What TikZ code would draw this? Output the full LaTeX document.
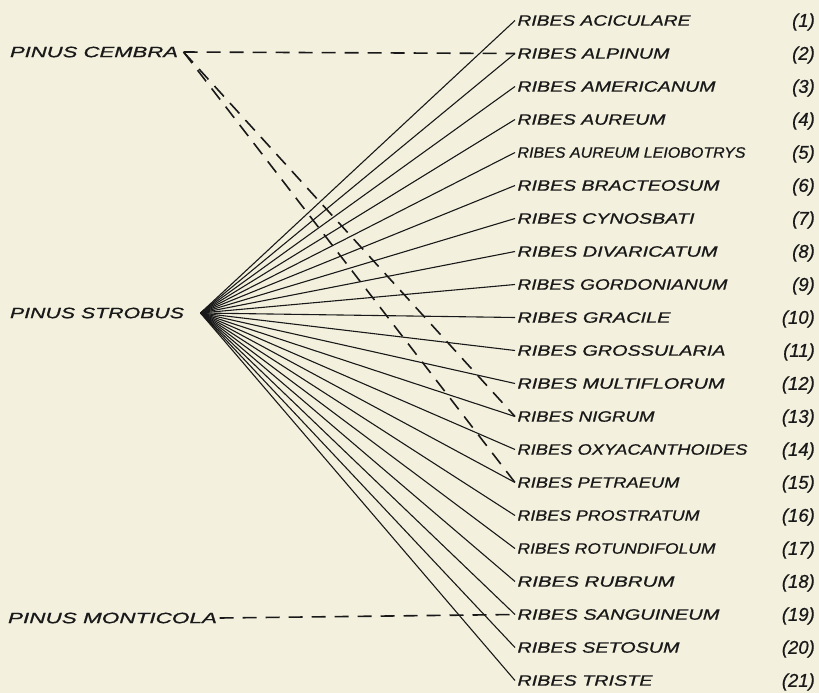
\documentclass[tikz,border=0pt]{standalone}
\usepackage{fontspec}
\usepackage{graphicx}
\newfontfamily\lett{Liberation Sans}[FakeBold=0.8]
\definecolor{paper}{RGB}{243,241,222}
\definecolor{ink}{RGB}{25,25,25}
\newcommand{\fitlab}[2]{\resizebox{#1pt}{10.5pt}{\lett\itshape #2}}
\begin{document}
\begin{tikzpicture}[x=1pt,y=-1pt,
  lab/.style={inner xsep=2.5pt, inner ysep=0pt, outer sep=0pt, text=ink},
  num/.style={inner sep=0pt, text=ink, font=\lett\itshape\fontsize{18.5}{18.5}\selectfont},
  link/.style={draw=ink, line width=1.1pt},
  dlink/.style={draw=ink, line width=1.6pt, dash pattern=on 14pt off 9pt}]
\fill[paper] (0,0) rectangle (819,693);
\useasboundingbox (0,0) rectangle (819,693);
% pines
\node[lab, anchor=west] (cembra) at (7.5,52) {\fitlab{168}{PINUS CEMBRA}};
\node[lab, anchor=west] (strobus) at (7.5,313) {\fitlab{174}{PINUS STROBUS}};
\node[lab, anchor=west] (monticola) at (5.5,618) {\fitlab{209}{PINUS MONTICOLA}};
\coordinate (sv) at ([xshift=14pt]strobus.east);
\coordinate (cv) at ([xshift=3pt]cembra.east);
% currants
\foreach \i/\w/\t in {1/173/ACICULARE, 2/152/ALPINUM, 3/198/AMERICANUM, 4/148/AUREUM,
  5/228/AUREUM LEIOBOTRYS, 6/202/BRACTEOSUM, 7/177/CYNOSBATI, 8/200/DIVARICATUM,
  9/210/GORDONIANUM, 10/153/GRACILE, 11/208/GROSSULARIA, 12/207/MULTIFLORUM,
  13/137/NIGRUM, 14/230/OXYACANTHOIDES, 15/162/PETRAEUM, 16/182/PROSTRATUM,
  17/198/ROTUNDIFOLUM, 18/157/RUBRUM, 19/202/SANGUINEUM, 20/162/SETOSUM, 21/135/TRISTE}
{
  \pgfmathsetmacro{\yy}{20.5+33*(\i-1)}
  \node[lab, anchor=west] (r\i) at (515,\yy) {\fitlab{\w}{RIBES \t}};
  \node[num, anchor=base east] (n\i) at (815,\yy+6.3) {(\i)};
  \draw[link] (sv) -- (r\i.west);
}
% dashed connections
\draw[dlink] (cv) -- (r2.west);
\draw[dlink] (cv) -- (r13.west);
\draw[dlink] (cv) -- (r15.west);
\draw[dlink] (monticola.east) -- (r19.west);
\end{tikzpicture}
\end{document}
